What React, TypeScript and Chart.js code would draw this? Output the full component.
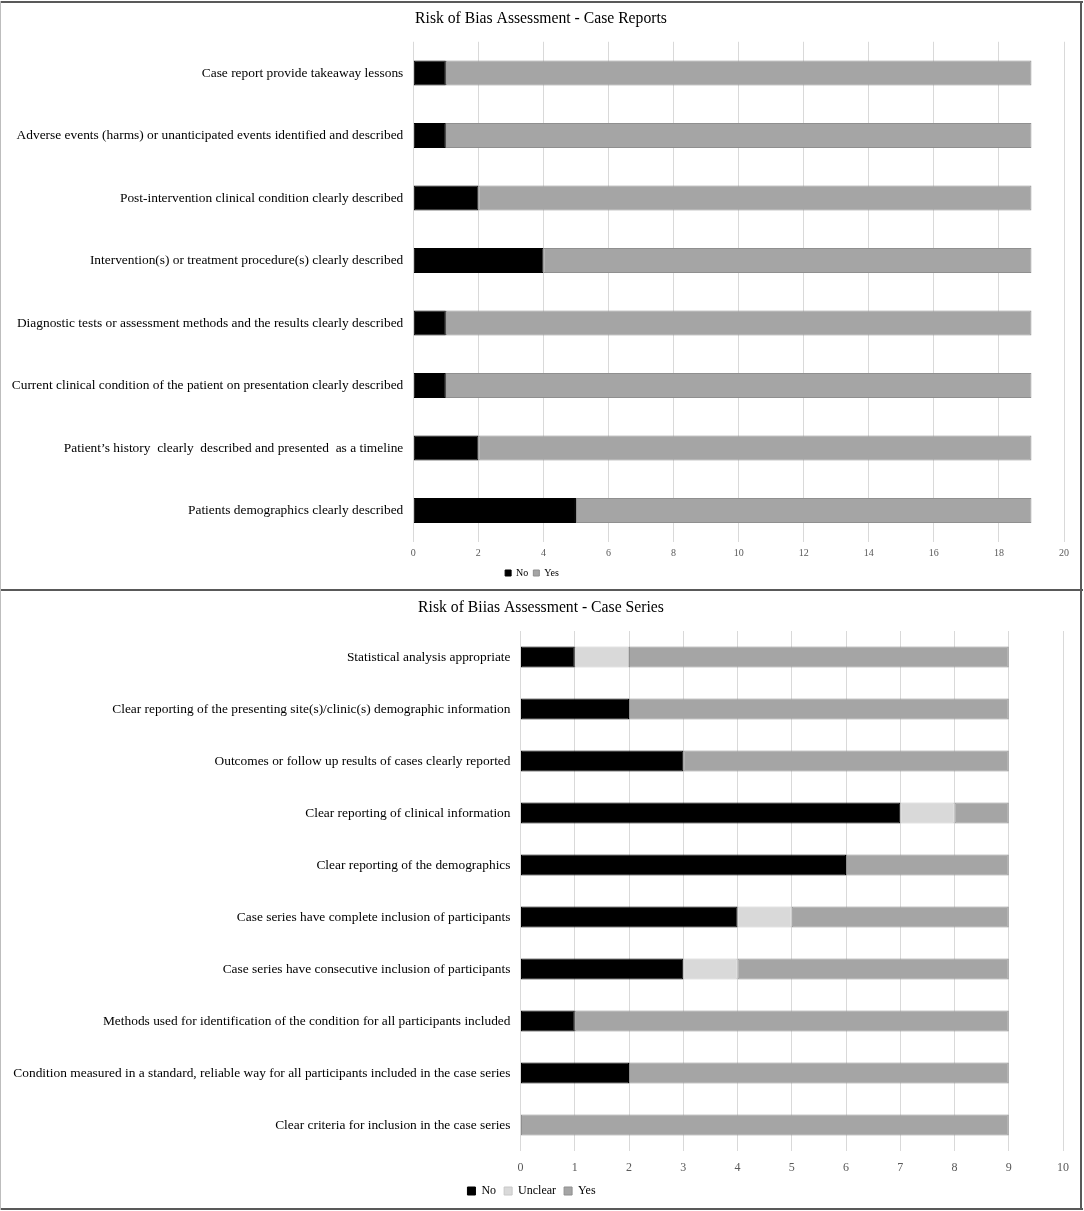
import React, { useEffect, useRef } from "react";
import { Chart, registerables } from "chart.js";

Chart.register(...registerables);

const FONT = "'Liberation Serif', 'Times New Roman', serif";

// ---- Case Reports data (top to bottom) ----
const reportCategories = [
  "Case report provide takeaway lessons",
  "Adverse events (harms) or unanticipated events identified and described",
  "Post-intervention clinical condition clearly described",
  "Intervention(s) or treatment procedure(s) clearly described",
  "Diagnostic tests or assessment methods and the results clearly described",
  "Current clinical condition of the patient on presentation clearly described",
  "Patient’s history  clearly  described and presented  as a timeline",
  "Patients demographics clearly described",
];
const reportNo = [1, 1, 2, 4, 1, 1, 2, 5];
const reportYes = [18, 18, 17, 15, 18, 18, 17, 14];
const reportTicks = { min: 0, max: 20, step: 2 };

// ---- Case Series data (top to bottom) ----
const seriesCategories = [
  "Statistical analysis appropriate",
  "Clear reporting of the presenting site(s)/clinic(s) demographic information",
  "Outcomes or follow up results of cases clearly reported",
  "Clear reporting of clinical information",
  "Clear reporting of the demographics",
  "Case series have complete inclusion of participants",
  "Case series have consecutive inclusion of participants",
  "Methods used for identification of the condition for all participants included",
  "Condition measured in a standard, reliable way for all participants included in the case series",
  "Clear criteria for inclusion in the case series",
];
const seriesNo = [1, 2, 3, 7, 6, 4, 3, 1, 2, 0];
const seriesUnclear = [1, 0, 0, 1, 0, 1, 1, 0, 0, 0];
const seriesYes = [7, 7, 6, 1, 3, 4, 5, 8, 7, 9];
const seriesTicks = { min: 0, max: 10, step: 1 };

const COLOR_NO = "#000000";
const COLOR_UNCLEAR = "#d9d9d9";
const COLOR_YES = "#a5a5a5";

type Cfg = {
  title: string;
  titleX: number;
  titleY: number;
  labels: string[];
  datasets: { label: string; data: number[]; bg: string; border: string }[];
  ticks: { min: number; max: number; step: number };
  yWidth: number;
  padRight: number;
  padTop: number;
  xHeight: number;
  xPad: number;
  xFont: number;
  yFont: number;
  legendFont: number;
  legendBox: number;
  legendPad: number;
  padBottom: number;
};

function BarPanel({ cfg, width, height }: { cfg: Cfg; width: number; height: number }) {
  const ref = useRef<HTMLCanvasElement | null>(null);
  useEffect(() => {
    if (!ref.current) return;
    const titlePlugin = {
      id: "panelTitle",
      afterDraw(chart: any) {
        const ctx = chart.ctx;
        ctx.save();
        ctx.font = `normal 15.7px ${FONT}`;
        ctx.fillStyle = "#000000";
        ctx.textAlign = "center";
        ctx.textBaseline = "middle";
        ctx.fillText(cfg.title, cfg.titleX, cfg.titleY);
        ctx.restore();
      },
    };
    const chart = new Chart(ref.current, {
      type: "bar",
      data: {
        labels: cfg.labels,
        datasets: cfg.datasets.map((d) => ({
          label: d.label,
          data: d.data,
          backgroundColor: d.bg,
          borderColor: d.border,
          borderWidth: 1,
          borderSkipped: false,
          categoryPercentage: 1,
          barPercentage: 0.4,
        })),
      },
      options: {
        indexAxis: "y",
        responsive: false,
        animation: false,
        maintainAspectRatio: false,
        layout: { padding: { left: 0, right: cfg.padRight, top: cfg.padTop, bottom: cfg.padBottom } },
        scales: {
          x: {
            stacked: true,
            min: cfg.ticks.min,
            max: cfg.ticks.max,
            ticks: {
              stepSize: cfg.ticks.step,
              padding: cfg.xPad,
              color: "#595959",
              font: { family: FONT, size: cfg.xFont },
            },
            grid: { color: "#d9d9d9", lineWidth: 1, drawTicks: false },
            border: { display: false },
            afterFit: (s: any) => {
              s.height = cfg.xHeight;
            },
          },
          y: {
            stacked: true,
            ticks: {
              padding: 10,
              color: "#000000",
              font: { family: FONT, size: cfg.yFont },
              autoSkip: false,
            },
            grid: { display: false, drawTicks: false },
            border: { display: false },
            afterFit: (s: any) => {
              s.width = cfg.yWidth;
            },
          },
        },
        plugins: {
          title: { display: false },
          legend: {
            display: true,
            position: "bottom",
            labels: {
              color: "#000000",
              font: { family: FONT, size: cfg.legendFont },
              boxWidth: cfg.legendBox,
              boxHeight: cfg.legendBox,
              padding: cfg.legendPad,
            },
          },
          tooltip: { enabled: false },
        },
      },
      plugins: [titlePlugin],
    } as any);
    return () => chart.destroy();
  }, [cfg]);
  return <canvas ref={ref} width={width} height={height} style={{ display: "block", width, height }} />;
}

const topCfg: Cfg = {
  title: "Risk of Bias Assessment - Case Reports",
  titleX: 541,
  titleY: 19,
  labels: reportCategories,
  datasets: [
    { label: "No", data: reportNo, bg: COLOR_NO, border: "#000000" },
    { label: "Yes", data: reportYes, bg: COLOR_YES, border: "#8f8f8f" },
  ],
  ticks: reportTicks,
  yWidth: 413.3,
  padRight: 20,
  padTop: 41.75,
  xHeight: 21.25,
  xPad: 6,
  xFont: 10,
  yFont: 13.4,
  legendFont: 10,
  legendBox: 6,
  legendPad: 5,
  padBottom: 2,
};

const bottomCfg: Cfg = {
  title: "Risk of Biias Assessment - Case Series",
  titleX: 541,
  titleY: 18,
  labels: seriesCategories,
  datasets: [
    { label: "No", data: seriesNo, bg: COLOR_NO, border: "#000000" },
    { label: "Unclear", data: seriesUnclear, bg: COLOR_UNCLEAR, border: "#c8c8c8" },
    { label: "Yes", data: seriesYes, bg: COLOR_YES, border: "#8f8f8f" },
  ],
  ticks: seriesTicks,
  yWidth: 520.5,
  padRight: 21,
  padTop: 41,
  xHeight: 26,
  xPad: 10,
  xFont: 12,
  yFont: 13.4,
  legendFont: 12,
  legendBox: 8,
  legendPad: 8,
  padBottom: 4,
};

export default function App() {
  const line = (s: React.CSSProperties) => (
    <div style={{ position: "absolute", background: "#595959", zIndex: 2, ...s }} />
  );
  return (
    <div style={{ position: "absolute", left: 0, top: 0, width: 1084, height: 1211, background: "#fff", overflow: "hidden" }}>
      <div style={{ position: "absolute", left: 0, top: 0 }}>
        <BarPanel cfg={topCfg} width={1084} height={590} />
      </div>
      <div style={{ position: "absolute", left: 0, top: 590 }}>
        <BarPanel cfg={bottomCfg} width={1084} height={621} />
      </div>
      {line({ left: 0, top: 1, width: 1083, height: 2 })}
      {line({ left: 0, top: 589, width: 1083, height: 2 })}
      {line({ left: 0, top: 1208, width: 1083, height: 2 })}
      {line({ left: 1080, top: 1, width: 2, height: 1209 })}
      {line({ left: 0, top: 1, width: 1, height: 1209, background: "#bdbdbd" })}
    </div>
  );
}
